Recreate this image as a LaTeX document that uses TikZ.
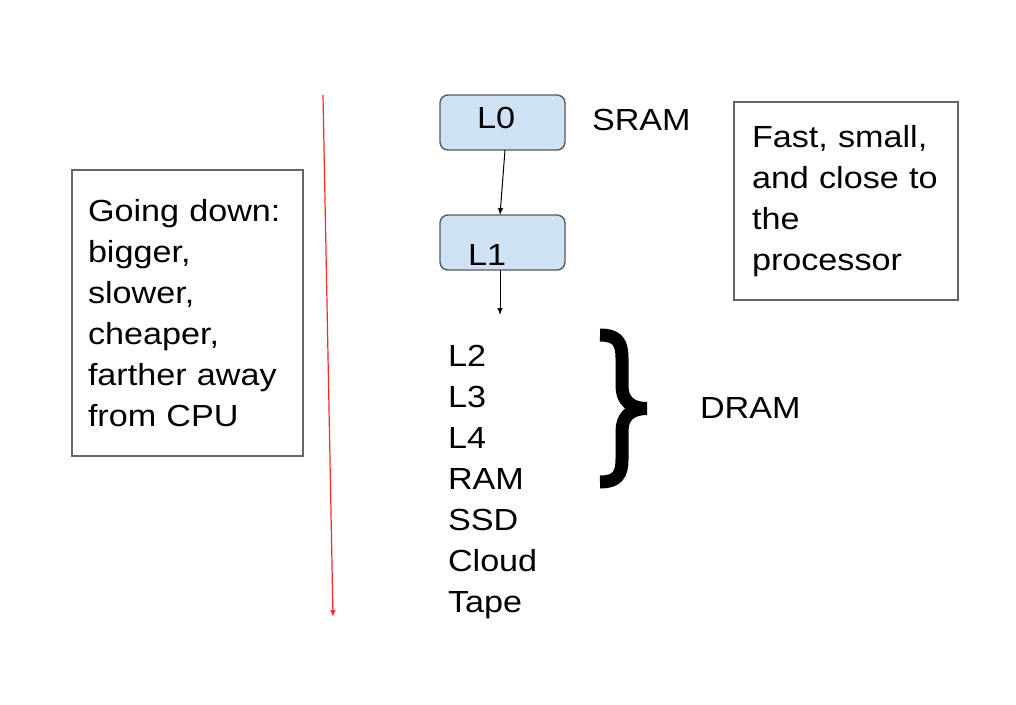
\documentclass[tikz,border=0pt]{standalone}
\usepackage{fontspec}
\setmainfont{Liberation Sans}[FakeStretch=1.12]
\usetikzlibrary{arrows.meta}
\definecolor{cellblue}{HTML}{CFE2F3}

\begin{document}
\begin{tikzpicture}[x=1pt,y=-1pt]
\tikzset{ >={Latex[length=7pt,width=5.5pt]}, inner sep=0pt, outer sep=0pt,
  every node/.style={font=\fontsize{30.5}{41}\selectfont},
  levelbox/.style={draw=black!65, fill=cellblue, rounded corners=8pt, line width=1.4pt,
    minimum width=125pt, minimum height=55pt},
  notebox/.style={draw=black!60, line width=1.6pt, align=left, inner xsep=16pt},
  item/.style={anchor=base west},
}

\useasboundingbox (0,0) rectangle (1016,704);

%\draw [lightgray, dashed](0,0) grid [step=50] (1016,704);

% SRAM levels
\node [levelbox] (L0box) at (502.5,122.5) {};
\node [levelbox] (L1box) at (502.5,242.5) {};
\node [item] (L0) at (477,128) {L0};
\node [item] (L1) at (468,265) {L1};

\coordinate (L1end) at (500,315);
\draw [->, line width=1pt] ([xshift=2.5pt]L0box.south) -- ([xshift=-2.5pt]L1box.north);
\draw [->, line width=1pt] ([xshift=-2.5pt]L1box.south) -- (L1end);

\node [item] (SRAM) at (592,130) {SRAM};

% the rest of the hierarchy
\node [item] (L2)    at (448,366) {L2};
\node [item] (L3)    at (448,407) {L3};
\node [item] (L4)    at (448,448) {L4};
\node [item] (RAM)   at (448,489) {RAM};
\node [item] (SSD)   at (448,530) {SSD};
\node [item] (Cloud) at (448,571) {Cloud};
\node [item] (Tape)  at (448,612) {Tape};

% brace round L2 .. RAM
\draw [line width=13pt, line join=bevel]
  (600,335) .. controls (617,335) and (622,342) .. (622,358) -- (622,386)
  .. controls (622,400) and (630,408.5) .. (647,408.5)
  .. controls (630,408.5) and (622,417) .. (622,431) -- (622,459)
  .. controls (622,475) and (617,482) .. (600,482);
\node [item] (DRAM) at (700,418) {DRAM};

% side notes
\node [notebox, text width=199pt, minimum height=286pt, anchor=north west] (godown) at (72,170)
  {Going down:\\bigger,\\slower,\\cheaper,\\farther away\\from CPU};
\node [notebox, text width=188pt, inner xsep=18pt, minimum height=198pt, anchor=north west] (fastnote) at (734,102)
  {Fast, small,\\and close to\\the\\processor};

\coordinate (redtop) at (323,95);
\coordinate (redbot) at (333,617);
\draw [->, red!85!white, line width=1.2pt] (redtop) -- (redbot);
\end{tikzpicture}
\end{document}
